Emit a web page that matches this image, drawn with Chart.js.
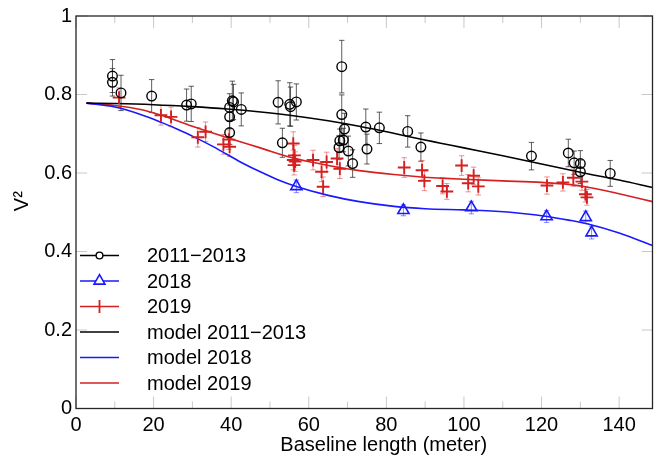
<!DOCTYPE html>
<html>
<head>
<meta charset="utf-8">
<script src="https://cdn.jsdelivr.net/npm/chart.js@4.4.1/dist/chart.umd.min.js"></script>
<style>
  html, body { margin: 0; padding: 0; background: #ffffff; }
  canvas { display: block; }
</style>
</head>
<body>
<canvas id="c" width="661" height="460"></canvas>
<script>
// ---------- data ----------
const seriesNames = ['2011\u22122013', '2018', '2019', 'model 2011\u22122013', 'model 2018', 'model 2019'];

// 2011-2013 observations (black circles)
const obs1113X = [9.4, 9.4, 11.6, 19.5, 28.5, 29.7, 40.3, 40.6, 39.6, 42.6, 39.6, 39.6, 52.1, 55.1, 55.3, 56.8, 53.2, 68.5, 68.5, 69.2, 68.0, 68.9, 67.8, 70.2, 71.3, 74.7, 75.0, 78.2, 85.5, 88.9, 117.4, 126.9, 128.4, 130.0, 130.0, 137.7];
const obs1113Y = [0.847, 0.831, 0.804, 0.796, 0.773, 0.776, 0.784, 0.781, 0.767, 0.762, 0.743, 0.703, 0.780, 0.775, 0.769, 0.781, 0.677, 0.871, 0.749, 0.712, 0.682, 0.684, 0.665, 0.656, 0.624, 0.717, 0.661, 0.715, 0.706, 0.666, 0.643, 0.651, 0.626, 0.624, 0.603, 0.599];
const obs1113E = [0.042, 0.035, 0.045, 0.042, 0.041, 0.045, 0.050, 0.045, 0.035, 0.042, 0.030, 0.030, 0.055, 0.055, 0.050, 0.046, 0.037, 0.067, 0.050, 0.040, 0.030, 0.030, 0.030, 0.038, 0.035, 0.046, 0.038, 0.040, 0.040, 0.036, 0.035, 0.035, 0.030, 0.033, 0.030, 0.033];

// 2018 observations (blue triangles)
const obs2018X = [56.8, 84.4, 101.9, 121.3, 131.4, 132.9];
const obs2018Y = [0.566, 0.505, 0.512, 0.489, 0.487, 0.448];
const obs2018E = [0.016, 0.014, 0.016, 0.015, 0.016, 0.016];

// 2019 observations (red crosses)
const obs2019X = [11.1, 21.9, 24.5, 31.4, 33.4, 38.0, 39.4, 39.6, 56.0, 56.3, 56.0, 56.5, 56.2, 61.1, 63.3, 63.7, 64.6, 67.3, 68.0, 84.6, 89.2, 89.8, 94.5, 95.6, 99.4, 101.1, 102.5, 103.7, 121.4, 125.5, 128.2, 130.4, 131.3, 131.7];
const obs2019Y = [0.792, 0.747, 0.743, 0.691, 0.705, 0.673, 0.685, 0.667, 0.675, 0.645, 0.633, 0.629, 0.620, 0.633, 0.603, 0.565, 0.628, 0.637, 0.611, 0.614, 0.607, 0.580, 0.567, 0.553, 0.619, 0.574, 0.593, 0.566, 0.568, 0.576, 0.588, 0.578, 0.546, 0.538];
const obs2019E = [0.025, 0.025, 0.025, 0.025, 0.025, 0.025, 0.025, 0.025, 0.030, 0.025, 0.025, 0.025, 0.025, 0.025, 0.025, 0.025, 0.025, 0.025, 0.025, 0.025, 0.025, 0.025, 0.020, 0.020, 0.025, 0.022, 0.022, 0.022, 0.022, 0.022, 0.022, 0.022, 0.020, 0.020];

// model curves
const mod1113X = [2.7, 10, 20, 30, 39, 47, 56, 65, 73, 81, 89, 94, 100, 110, 120, 130, 140, 148.6];
const mod1113Y = [0.778, 0.777, 0.774, 0.769, 0.763, 0.756, 0.746, 0.733, 0.719, 0.703, 0.686, 0.676, 0.664, 0.644, 0.623, 0.602, 0.582, 0.563];
const mod2018X = [2.7, 10, 17, 22, 26, 30, 35, 39, 43, 47.5, 52, 57, 65, 73, 82, 90, 100, 107, 115, 121, 127, 132, 140, 148.6];
const mod2018Y = [0.778, 0.768, 0.748, 0.729, 0.712, 0.694, 0.669, 0.647, 0.625, 0.603, 0.583, 0.565, 0.543, 0.527, 0.515, 0.509, 0.506, 0.503, 0.497, 0.490, 0.480, 0.470, 0.447, 0.415];
const mod2019X = [2.7, 10, 17, 22, 30, 39, 47.5, 56, 65, 73, 82, 89, 94, 100, 110, 120, 127, 133, 140, 148.6];
const mod2019Y = [0.778, 0.772, 0.761, 0.747, 0.719, 0.690, 0.664, 0.638, 0.619, 0.606, 0.596, 0.590, 0.587, 0.584, 0.580, 0.576, 0.571, 0.562, 0.547, 0.527];

// axis
const xMin = 0, xMax = 148.6, xStep = 20;
const yMin = 0, yMax = 1, yStep = 0.2;
const xTitle = 'Baseline length (meter)';
const yTitle = 'V\u00B2';

// ---------- styling ----------
const BLACK = '#000000';
const BLUE = 'rgb(25,25,255)';
const RED = 'rgb(212,32,32)';
const FONT = "'Liberation Sans', Arial, Helvetica, sans-serif";

function pts(xs, ys) { return xs.map((x, i) => ({ x: x, y: ys[i] })); }

const datasets = [
  { label: seriesNames[0], data: pts(obs1113X, obs1113Y), err: obs1113E, errColor: 'rgba(40,40,40,0.75)',
    pointStyle: 'circle', pointRadius: 4.8, borderColor: BLACK, backgroundColor: 'rgba(0,0,0,0)', borderWidth: 1.4, showLine: false },
  { label: seriesNames[1], data: pts(obs2018X, obs2018Y), err: obs2018E, errColor: 'rgba(40,40,255,0.55)',
    pointStyle: 'triangle', pointRadius: 6.5, borderColor: BLUE, backgroundColor: 'rgba(0,0,0,0)', borderWidth: 1.6, showLine: false },
  { label: seriesNames[2], data: pts(obs2019X, obs2019Y), err: obs2019E, errColor: 'rgba(220,60,60,0.55)',
    pointStyle: 'cross', pointRadius: 6.4, borderColor: RED, backgroundColor: RED, borderWidth: 1.9, showLine: false },
  { label: seriesNames[3], data: pts(mod1113X, mod1113Y), showLine: true, pointRadius: 0, borderColor: BLACK, borderWidth: 1.6, cubicInterpolationMode: 'monotone' },
  { label: seriesNames[4], data: pts(mod2018X, mod2018Y), showLine: true, pointRadius: 0, borderColor: BLUE, borderWidth: 1.6, cubicInterpolationMode: 'monotone' },
  { label: seriesNames[5], data: pts(mod2019X, mod2019Y), showLine: true, pointRadius: 0, borderColor: RED, borderWidth: 1.6, cubicInterpolationMode: 'monotone' }
];

// error bars drawn through the scales
const errorBarPlugin = {
  id: 'errorBars',
  beforeDatasetsDraw(chart) {
    const { ctx, scales: { x, y }, chartArea } = chart;
    ctx.save();
    ctx.beginPath();
    ctx.rect(chartArea.left, chartArea.top, chartArea.right - chartArea.left, chartArea.bottom - chartArea.top);
    ctx.clip();
    chart.data.datasets.forEach(ds => {
      if (!ds.err) return;
      ctx.strokeStyle = ds.errColor;
      ctx.lineWidth = 1;
      ds.data.forEach((p, i) => {
        const px = x.getPixelForValue(p.x);
        const y1 = y.getPixelForValue(p.y + ds.err[i]);
        const y2 = y.getPixelForValue(p.y - ds.err[i]);
        ctx.beginPath();
        ctx.moveTo(px, y1); ctx.lineTo(px, y2);
        ctx.moveTo(px - 2.7, y1); ctx.lineTo(px + 2.7, y1);
        ctx.moveTo(px - 2.7, y2); ctx.lineTo(px + 2.7, y2);
        ctx.stroke();
      });
    });
    ctx.restore();
  }
};

// frame + inward ticks
const framePlugin = {
  id: 'frame',
  afterDraw(chart) {
    const { ctx, scales: { x, y }, chartArea: a } = chart;
    ctx.save();
    ctx.strokeStyle = 'rgb(200,200,200)';
    ctx.lineWidth = 1;
    const xt = x.ticks.map(t => t.value);
    const drawX = (v, len) => {
      const px = x.getPixelForValue(v);
      ctx.beginPath();
      ctx.moveTo(px, a.bottom); ctx.lineTo(px, a.bottom - len);
      ctx.moveTo(px, a.top); ctx.lineTo(px, a.top + len);
      ctx.stroke();
    };
    xt.forEach(v => {
      drawX(v, 12);
      const mid = v + xStep / 2;
      if (mid < xMax) drawX(mid, 7);
    });
    y.ticks.forEach(t => {
      const py = y.getPixelForValue(t.value);
      ctx.beginPath();
      ctx.moveTo(a.left, py); ctx.lineTo(a.left + 11, py);
      ctx.moveTo(a.right, py); ctx.lineTo(a.right - 11, py);
      ctx.stroke();
    });
    ctx.strokeStyle = 'rgb(38,38,38)';
    ctx.lineWidth = 1.3;
    ctx.strokeRect(a.left, a.top, a.right - a.left, a.bottom - a.top);
    ctx.restore();
  }
};

// legend inside the plot, lower left
const legendPlugin = {
  id: 'innerLegend',
  afterDraw(chart) {
    const { ctx } = chart;
    const x0 = 80, x1 = 119, xm = 99.5, xt = 147, yStart = 255.5, dy = 25.5;
    ctx.save();
    chart.data.datasets.forEach((ds, i) => {
      const yy = yStart + i * dy;
      ctx.strokeStyle = ds.borderColor;
      ctx.lineWidth = 1.6;
      ctx.beginPath(); ctx.moveTo(x0, yy); ctx.lineTo(x1, yy); ctx.stroke();
      if (ds.pointStyle === 'circle') {
        ctx.fillStyle = '#ffffff';
        ctx.lineWidth = 1.4;
        ctx.beginPath(); ctx.arc(xm, yy, 3.4, 0, Math.PI * 2); ctx.fill(); ctx.stroke();
      } else if (ds.pointStyle === 'triangle') {
        const r = 6.3;
        ctx.fillStyle = '#ffffff';
        ctx.lineWidth = 1.6;
        ctx.beginPath();
        ctx.moveTo(xm, yy - r);
        ctx.lineTo(xm + r * 0.866, yy + r * 0.5);
        ctx.lineTo(xm - r * 0.866, yy + r * 0.5);
        ctx.closePath(); ctx.fill(); ctx.stroke();
      } else if (ds.pointStyle === 'cross') {
        ctx.lineWidth = 1.8;
        ctx.beginPath(); ctx.moveTo(xm, yy - 6.5); ctx.lineTo(xm, yy + 6.5); ctx.stroke();
      }
      ctx.fillStyle = '#000000';
      ctx.font = '20px ' + FONT;
      ctx.textAlign = 'left';
      ctx.textBaseline = 'middle';
      ctx.fillText(ds.label, xt, yy + 1);
    });
    ctx.restore();
  }
};

Chart.defaults.font.family = FONT;
Chart.defaults.font.size = 20;
Chart.defaults.color = '#000000';

new Chart(document.getElementById('c'), {
  type: 'scatter',
  data: { datasets: datasets },
  options: {
    responsive: false,
    animation: false,
    layout: { padding: { top: 14.5, right: 8.5, left: 0, bottom: 0 } },
    plugins: { legend: { display: false }, tooltip: { enabled: false } },
    scales: {
      x: {
        type: 'linear', min: xMin, max: xMax,
        ticks: { stepSize: xStep, includeBounds: false, padding: 5, maxRotation: 0, color: '#000' },
        grid: { display: false, drawTicks: false },
        border: { display: false },
        title: { display: true, text: '\u00A0'.repeat(7) + xTitle, padding: { top: 0, bottom: 3 }, color: '#000' },
        afterFit(s) { s.height = 51.5; }
      },
      y: {
        type: 'linear', min: yMin, max: yMax,
        ticks: { stepSize: yStep, padding: 4, color: '#000', callback: v => String(parseFloat(Number(v).toFixed(1))) },
        grid: { display: false, drawTicks: false },
        border: { display: false },
        title: { display: true, text: '\u00A0'.repeat(4) + yTitle, padding: { top: 10.5, bottom: 0 }, color: '#000' },
        afterFit(s) { s.width = 76; }
      }
    }
  },
  plugins: [errorBarPlugin, framePlugin, legendPlugin]
});
</script>
</body>
</html>
